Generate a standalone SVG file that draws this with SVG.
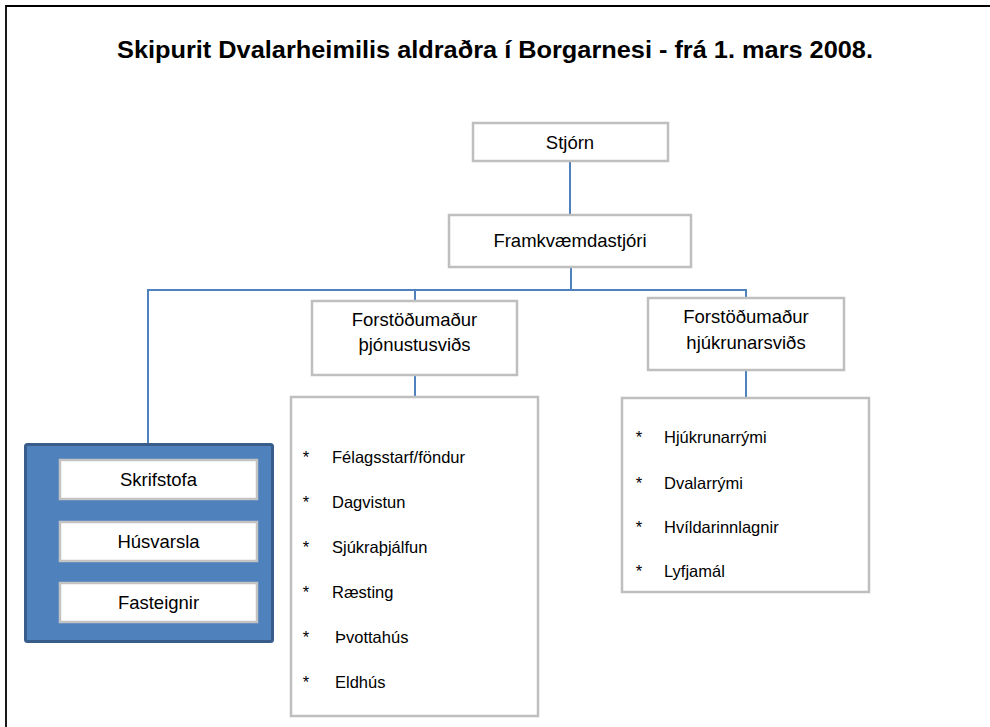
<svg xmlns="http://www.w3.org/2000/svg" width="990" height="727" viewBox="0 0 990 727">
<style>
  .box { fill: #ffffff; stroke: #bfbfbf; stroke-width: 2.5; }
  .ibox { fill: #ffffff; stroke: #c3c3c3; stroke-width: 2.5; }
  .lbl { font-family: "Liberation Sans", Arial, sans-serif; font-size: 18.5px; fill: #000000; text-anchor: middle; }
  .item { font-family: "Liberation Sans", Arial, sans-serif; font-size: 16.5px; fill: #000000; }
  .ast { font-family: "Liberation Sans", Arial, sans-serif; font-size: 16.5px; fill: #000000; text-anchor: middle; }
  .conn line { stroke: #4f81bd; stroke-width: 2; }
  .title { font-family: "Liberation Sans", Arial, sans-serif; font-size: 23px; font-weight: bold; fill: #000000; text-anchor: middle; }
</style>
<rect x="0" y="0" width="990" height="727" fill="#ffffff"/>
<g id="frame">
  <line x1="6" y1="6" x2="990" y2="6" stroke="#000000" stroke-width="2"/>
  <line x1="6" y1="5" x2="6" y2="727" stroke="#000000" stroke-width="1.8"/>
</g>
<text class="title" x="495" y="58" textLength="756" lengthAdjust="spacingAndGlyphs">Skipurit Dvalarheimilis aldraðra í Borgarnesi - frá 1. mars 2008.</text>

<g id="connectors" class="conn">
  <line x1="570" y1="162" x2="570" y2="214"/>
  <line x1="571" y1="268" x2="571" y2="290"/>
  <line x1="147" y1="290" x2="747" y2="290"/>
  <line x1="148" y1="289" x2="148" y2="443"/>
  <line x1="415" y1="289" x2="415" y2="300"/>
  <line x1="415" y1="376" x2="415" y2="396"/>
  <line x1="746" y1="289" x2="746" y2="297"/>
  <line x1="746" y1="371" x2="746" y2="397"/>
</g>

<g id="stjorn">
  <rect class="box" x="473" y="123" width="195" height="38"/>
  <text class="lbl" x="570" y="149">Stjórn</text>
</g>
<g id="framkvaemdastjori">
  <rect class="box" x="449" y="215" width="242" height="52"/>
  <text class="lbl" x="570" y="247">Framkvæmdastjóri</text>
</g>
<g id="thjonustusvid">
  <rect class="box" x="312" y="301" width="205" height="74"/>
  <text class="lbl" x="414.5" y="326">Forstöðumaður</text>
  <text class="lbl" x="414.5" y="351">þjónustusviðs</text>
</g>
<g id="hjukrunarsvid">
  <rect class="box" x="648" y="298" width="196" height="72"/>
  <text class="lbl" x="746" y="323">Forstöðumaður</text>
  <text class="lbl" x="746" y="349">hjúkrunarsviðs</text>
</g>
<g id="thjonusta-list">
  <rect class="box" x="291" y="397" width="247" height="319"/>
  <text class="ast" x="306" y="463">*</text><text class="item" x="332" y="463">Félagsstarf/föndur</text>
  <text class="ast" x="306" y="508">*</text><text class="item" x="332" y="508">Dagvistun</text>
  <text class="ast" x="306" y="553">*</text><text class="item" x="332" y="553">Sjúkraþjálfun</text>
  <text class="ast" x="306" y="598">*</text><text class="item" x="332" y="598">Ræsting</text>
  <text class="ast" x="306" y="643">*</text><text class="item" x="335" y="643">Þvottahús</text>
  <text class="ast" x="306" y="688">*</text><text class="item" x="335" y="688">Eldhús</text>
</g>
<g id="hjukrun-list">
  <rect class="box" x="622" y="398" width="247" height="194"/>
  <text class="ast" x="639" y="443">*</text><text class="item" x="664" y="443">Hjúkrunarrými</text>
  <text class="ast" x="639" y="489">*</text><text class="item" x="664" y="489">Dvalarrými</text>
  <text class="ast" x="639" y="533">*</text><text class="item" x="664" y="533">Hvíldarinnlagnir</text>
  <text class="ast" x="639" y="577">*</text><text class="item" x="664" y="577">Lyfjamál</text>
</g>
<g id="skrifstofa-group">
  <rect x="25.5" y="444.5" width="247" height="197" rx="2" fill="#4f81bd" stroke="#385d8a" stroke-width="3"/>
  <g id="skrifstofa">
    <rect class="ibox" x="60" y="460" width="197" height="39"/>
    <text class="lbl" x="158.5" y="486">Skrifstofa</text>
  </g>
  <g id="husvarsla">
    <rect class="ibox" x="60" y="522" width="197" height="39"/>
    <text class="lbl" x="158.5" y="548">Húsvarsla</text>
  </g>
  <g id="fasteignir">
    <rect class="ibox" x="60" y="583" width="197" height="39"/>
    <text class="lbl" x="158.5" y="609">Fasteignir</text>
  </g>
</g>
</svg>
